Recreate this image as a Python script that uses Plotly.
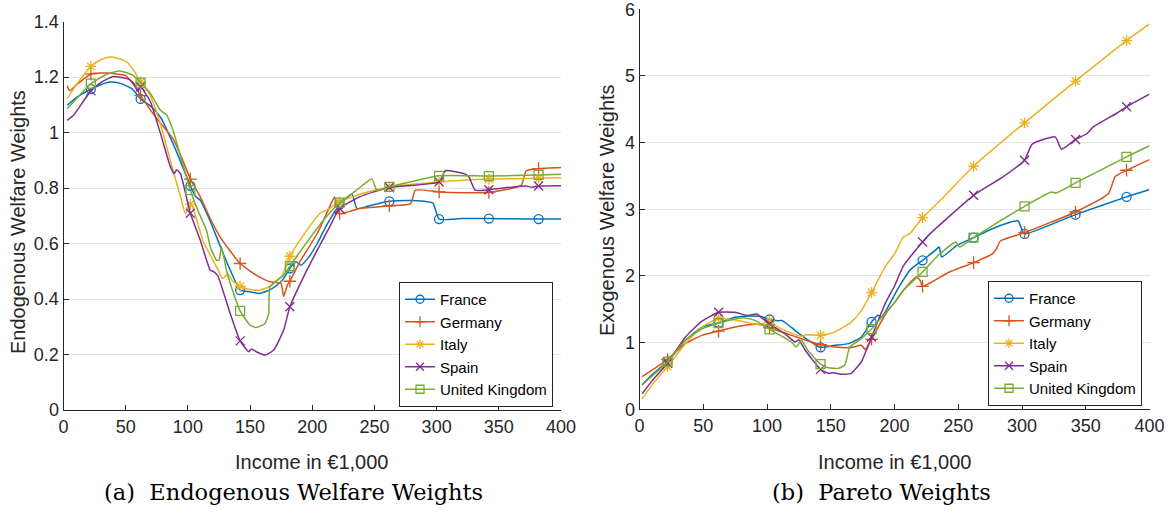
import plotly.graph_objects as go

# --- Endogenous welfare weights (left panel) ---
endo_x_france = [3, 10, 22, 30, 37, 45, 55, 62, 70, 78, 90, 102, 106, 110, 118, 126, 134, 142, 150, 158,
                 168, 176, 182, 187, 191, 197, 204, 212, 222, 228, 232, 236, 245, 262, 279, 290, 297, 302,
                 320, 342, 360, 382, 400]
endo_france = [1.098, 1.125, 1.156, 1.172, 1.182, 1.178, 1.158, 1.121, 1.095, 1.055, 0.94, 0.808, 0.77,
               0.756, 0.68, 0.59, 0.505, 0.432, 0.426, 0.42, 0.438, 0.468, 0.51, 0.534, 0.522, 0.55, 0.60,
               0.67, 0.74, 0.765, 0.777, 0.726, 0.735, 0.752, 0.755, 0.752, 0.746, 0.688, 0.69, 0.69,
               0.689, 0.688, 0.688]

endo_x_germany = [3, 5, 10, 22, 35, 50, 56, 62, 75, 88, 95, 102, 110, 118, 126, 132, 142, 155, 166, 172,
                  175, 177, 180, 182, 190, 204, 214, 218, 222, 238, 262, 279, 283, 302, 342, 368, 372, 382, 400]
endo_germany = [1.168, 1.15, 1.17, 1.211, 1.214, 1.205, 1.175, 1.133, 1.05, 0.978, 0.91, 0.832, 0.768,
                0.69, 0.623, 0.585, 0.528, 0.486, 0.462, 0.459, 0.455, 0.41, 0.45, 0.464, 0.534, 0.636,
                0.732, 0.768, 0.708, 0.726, 0.736, 0.744, 0.792, 0.786, 0.784, 0.81, 0.862, 0.87, 0.874]

endo_x_italy = [3, 10, 22, 30, 37, 45, 51, 57, 62, 69, 77, 88, 94, 98, 102, 104, 112, 123, 128, 132, 136,
                142, 150, 158, 166, 176, 182, 192, 206, 214, 222, 240, 262, 302, 342, 382, 400]
endo_italy = [1.122, 1.17, 1.238, 1.262, 1.272, 1.266, 1.254, 1.22, 1.182, 1.14, 1.044, 0.864, 0.77, 0.708,
              0.742, 0.73, 0.612, 0.516, 0.474, 0.49, 0.465, 0.446, 0.434, 0.432, 0.446, 0.486, 0.554,
              0.624, 0.708, 0.726, 0.75, 0.78, 0.804, 0.822, 0.832, 0.835, 0.837]

endo_x_spain = [3, 8, 22, 30, 40, 51, 56, 60, 62, 66, 70, 78, 86, 89, 91, 94, 102, 110, 118, 121, 124, 134,
                142, 149, 151, 155, 162, 169, 177, 182, 193, 204, 214, 222, 238, 262, 302, 307, 323, 326,
                331, 342, 362, 372, 377, 382, 400]
endo_spain = [1.044, 1.062, 1.15, 1.18, 1.202, 1.194, 1.18, 1.15, 1.165, 1.14, 1.11, 0.996, 0.876, 0.852,
              0.866, 0.852, 0.709, 0.612, 0.504, 0.498, 0.484, 0.348, 0.249, 0.21, 0.22, 0.21, 0.198,
              0.216, 0.288, 0.372, 0.48, 0.576, 0.66, 0.726, 0.768, 0.802, 0.822, 0.862, 0.85, 0.84,
              0.792, 0.794, 0.804, 0.807, 0.803, 0.807, 0.808]

endo_x_uk = [3, 10, 22, 35, 45, 56, 62, 70, 78, 83, 88, 95, 102, 108, 115, 118, 123, 125, 127, 131, 136,
             142, 150, 155, 162, 165, 166, 177, 182, 193, 209, 222, 235, 248, 252, 262, 302, 342, 382, 400]
endo_uk = [1.086, 1.12, 1.176, 1.21, 1.222, 1.206, 1.18, 1.14, 1.08, 1.062, 1.008, 0.9, 0.792, 0.72,
           0.647, 0.588, 0.54, 0.54, 0.588, 0.504, 0.43, 0.357, 0.306, 0.297, 0.312, 0.348, 0.444, 0.486,
           0.518, 0.588, 0.684, 0.747, 0.79, 0.832, 0.792, 0.804, 0.844, 0.843, 0.847, 0.85]

# --- Pareto weights (right panel) ---
exo_x_france = [2, 10, 22, 36, 49, 62, 75, 85, 96, 102, 109, 112, 119, 127, 142, 153, 164, 174, 182, 187,
                190, 202, 212, 222, 232, 235, 237, 249, 262, 280, 297, 300, 302, 342, 382, 400]
exo_france = [0.366, 0.52, 0.72, 1.035, 1.233, 1.297, 1.38, 1.40, 1.39, 1.347, 1.33, 1.33, 1.23, 1.11,
              0.93, 0.96, 0.985, 1.084, 1.31, 1.41, 1.385, 1.785, 2.085, 2.235, 2.385, 2.435, 2.285,
              2.46, 2.575, 2.735, 2.825, 2.685, 2.63, 2.92, 3.186, 3.296]

exo_x_germany = [2, 12, 22, 36, 49, 62, 75, 88, 96, 102, 114, 127, 142, 153, 166, 174, 177, 179, 182, 193,
                 200, 207, 217, 220, 222, 243, 262, 277, 280, 283, 302, 342, 368, 373, 382, 400]
exo_germany = [0.49, 0.614, 0.748, 0.985, 1.109, 1.173, 1.233, 1.272, 1.267, 1.223, 1.144, 1.059, 0.97,
               0.936, 0.926, 0.96, 0.896, 0.95, 1.05, 1.43, 1.6, 1.785, 1.985, 1.935, 1.845, 2.06, 2.2,
               2.335, 2.41, 2.525, 2.65, 2.96, 3.24, 3.49, 3.586, 3.746]

exo_x_italy = [2, 10, 22, 36, 49, 62, 75, 85, 95, 102, 108, 114, 127, 131, 142, 153, 166, 174, 182, 193,
               200, 207, 212, 222, 236, 262, 302, 342, 382, 400]
exo_italy = [0.153, 0.37, 0.639, 0.985, 1.233, 1.366, 1.34, 1.30, 1.27, 1.33, 1.24, 1.183, 1.094, 1.119,
             1.109, 1.158, 1.307, 1.48, 1.752, 2.15, 2.33, 2.585, 2.635, 2.875, 3.135, 3.646, 4.297,
             4.923, 5.529, 5.78]

exo_x_spain = [2, 10, 22, 36, 49, 62, 75, 85, 92, 96, 102, 114, 122, 125, 130, 142, 148, 152, 159, 166, 174,
               182, 193, 200, 207, 222, 228, 241, 262, 285, 302, 308, 326, 331, 342, 351, 356, 374, 382, 400]
exo_spain = [0.233, 0.43, 0.69, 1.084, 1.322, 1.455, 1.455, 1.406, 1.43, 1.371, 1.282, 1.134, 1.01, 1.04,
             0.886, 0.599, 0.54, 0.55, 0.525, 0.54, 0.713, 1.084, 1.6, 1.85, 2.15, 2.51, 2.635, 2.86,
             3.21, 3.486, 3.737, 3.977, 4.087, 3.902, 4.047, 4.137, 4.237, 4.437, 4.538, 4.728]

exo_x_uk = [2, 10, 22, 36, 49, 62, 75, 83, 91, 102, 112, 119, 123, 127, 132, 142, 148, 156, 161, 165, 174,
            182, 193, 200, 207, 222, 233, 248, 251, 262, 302, 323, 327, 342, 382, 400]
exo_uk = [0.366, 0.5, 0.71, 1.035, 1.208, 1.292, 1.356, 1.371, 1.33, 1.198, 1.094, 1.01, 0.936, 1.035,
          0.886, 0.678, 0.624, 0.614, 0.663, 0.936, 1.059, 1.203, 1.45, 1.6, 1.785, 2.06, 2.285, 2.51,
          2.435, 2.575, 3.045, 3.26, 3.245, 3.396, 3.787, 3.953]

countries = ["France", "Germany", "Italy", "Spain", "United Kingdom"]
marker_x = [22, 62, 102, 142, 182, 222, 262, 302, 342, 382]
x_ticks = [0, 50, 100, 150, 200, 250, 300, 350, 400]

colors = ["#0072BD", "#D95319", "#EDB120", "#7E2F8E", "#77AC30"]
symbols = ["circle-open", "cross-thin-open", "asterisk-open", "x-thin-open", "square-open"]

left_series = [(endo_x_france, endo_france), (endo_x_germany, endo_germany), (endo_x_italy, endo_italy),
               (endo_x_spain, endo_spain), (endo_x_uk, endo_uk)]
right_series = [(exo_x_france, exo_france), (exo_x_germany, exo_germany), (exo_x_italy, exo_italy),
                (exo_x_spain, exo_spain), (exo_x_uk, exo_uk)]

FONT = "Liberation Sans, Arial, sans-serif"
SERIF = "DejaVu Serif, serif"
TXT = "#262626"
W, H = 1175, 514

fig = go.Figure()


def add_panel(series, xa, ya, legend):
    for name, (xs, ys), col, sym in zip(countries, series, colors, symbols):
        fig.add_trace(go.Scatter(x=xs, y=ys, mode="lines", xaxis=xa, yaxis=ya, showlegend=False,
                                 line=dict(color=col, width=1.5, shape="spline", smoothing=0.5),
                                 hoverinfo="skip"))
        lookup = dict(zip(xs, ys))
        mx = [m for m in marker_x if m in lookup]
        fig.add_trace(go.Scatter(x=mx, y=[lookup[m] for m in mx], mode="markers", xaxis=xa, yaxis=ya,
                                 showlegend=False,
                                 marker=dict(symbol=sym, size=9, color=col, line=dict(width=1.3, color=col))))
        # legend-only entry: line plus marker
        fig.add_trace(go.Scatter(x=[None], y=[None], mode="lines+markers", xaxis=xa, yaxis=ya, name=name,
                                 legend=legend,
                                 line=dict(color=col, width=1.5),
                                 marker=dict(symbol=sym, size=8, color=col, line=dict(width=1.3, color=col))))


add_panel(left_series, "x", "y", "legend")
add_panel(right_series, "x2", "y2", "legend2")

axis_common = dict(showline=True, linecolor=TXT, linewidth=1, ticks="inside", ticklen=5, tickcolor=TXT,
                   tickfont=dict(family=FONT, size=18, color=TXT), zeroline=False, automargin=False,
                   ticklabeloverflow="allow")

legend_style = dict(font=dict(family=FONT, size=15, color="black"), bgcolor="white",
                    bordercolor="#262626", borderwidth=1, xanchor="right", yanchor="bottom",
                    tracegroupgap=0, itemwidth=30)


def label(text, x, y, size, font=FONT, angle=0, color=TXT):
    return dict(text=text, x=x / W, y=1 - y / H, xref="paper", yref="paper", xanchor="center",
                yanchor="middle", textangle=angle, showarrow=False,
                font=dict(family=font, size=size, color=color))


fig.update_layout(
    width=W, height=H,
    margin=dict(l=0, r=0, t=0, b=0),
    paper_bgcolor="white", plot_bgcolor="white",
    xaxis=dict(domain=[63.5 / W, 561 / W], range=[0, 400], tickvals=x_ticks, showgrid=False,
               anchor="y", **axis_common),
    yaxis=dict(domain=[1 - 410 / H, 1 - 21.5 / H], range=[0, 1.4], dtick=0.2, showgrid=True,
               gridcolor="#e3e3e3", anchor="x", **axis_common),
    xaxis2=dict(domain=[639.5 / W, 1149.5 / W], range=[0, 400], tickvals=x_ticks, showgrid=False,
                anchor="y2", **axis_common),
    yaxis2=dict(domain=[1 - 409.3 / H, 1 - 9.3 / H], range=[0, 6], dtick=1, showgrid=True,
                gridcolor="#e3e3e3", anchor="x2", **axis_common),
    legend=dict(x=553 / W, y=1 - 407 / H, **legend_style),
    legend2=dict(x=1142 / W, y=1 - 406 / H, **legend_style),
    annotations=[
        label("Endogenous Welfare Weights", 18, 222, 20, angle=-90),
        label("Exogenous Welfare Weights", 607, 210, 20, angle=-90),
        label("Income in €1,000", 312, 462, 20),
        label("Income in €1,000", 894, 462, 20),
        label("(a)  Endogenous Welfare Weights", 293, 492, 22.5, font=SERIF, color="black"),
        label("(b)  Pareto Weights", 882, 492, 22.5, font=SERIF, color="black"),
    ],
)

fig.write_html("out.html", config={"displayModeBar": False},
               post_script="document.body.style.margin='0px';")
